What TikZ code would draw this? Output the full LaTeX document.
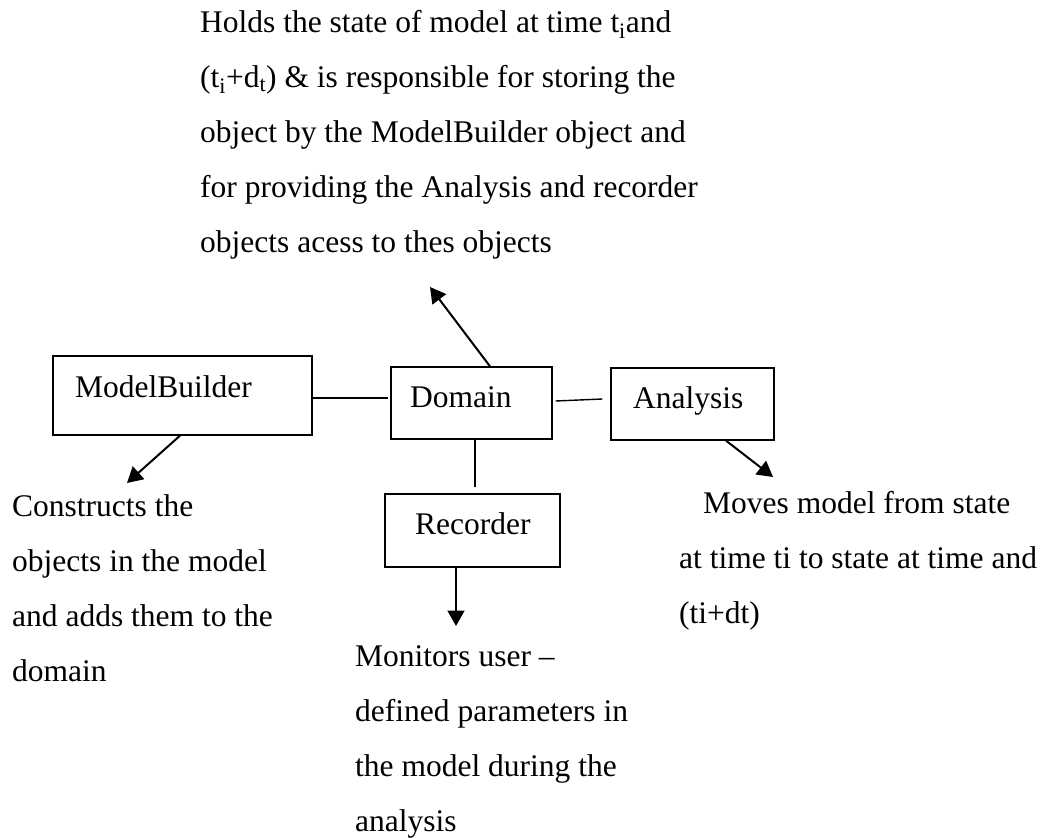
\documentclass[tikz,border=0pt]{standalone}
\usepackage{fontspec}
\setmainfont{Liberation Serif}
\usetikzlibrary{arrows.meta}

% stacked lines with a fixed baseline distance; the block's baseline is its first line
\newcommand{\textlines}[1]{\vtop{\baselineskip=55.2pt\lineskiplimit=-100pt\lineskip=0pt #1}}

\tikzset{
  classbox/.style={draw=black, line width=1.3pt, inner sep=0pt, fill=white},
  label/.style={anchor=base west, inner sep=0pt, font=\fontsize{31.5}{55}\selectfont},
  link/.style={line width=1.4pt},
  pointer/.style={line width=2pt, -{Triangle[length=15.5pt,width=17pt]}}
}

\begin{document}
\begin{tikzpicture}[x=1pt,y=-1pt]
\useasboundingbox (0,0) rectangle (1047,838);

% class boxes
\node[classbox, minimum width=259pt, minimum height=79pt] (mb)  at (182.5,395.5) {};
\node[classbox, minimum width=161pt, minimum height=72pt] (dom) at (471.5,403) {};
\node[classbox, minimum width=163pt, minimum height=72pt] (an)  at (692.5,404) {};
\node[classbox, minimum width=175pt, minimum height=73pt] (rec) at (472.5,530.5) {};

% box titles
\node[label] (mbt)  at (75,397)  {ModelBuilder};
\node[label] (domt) at (410,407) {Domain};
\node[label] (ant)  at (633,408) {Analysis};
\node[label] (rect) at (415,534) {Recorder};

% descriptions
\node[label] (domdesc) at (200,32) {\textlines{%
  \hbox{Holds the state of model at time t\textsubscript{i}and}
  \hbox{(t\textsubscript{i}+d\textsubscript{t}) \& is responsible for storing the}
  \hbox{object by the ModelBuilder object and}
  \hbox{for providing the Analysis and recorder}
  \hbox{objects acess to thes objects}}};

\node[label] (mbdesc) at (12,516) {\textlines{%
  \hbox{Constructs the}
  \hbox{objects in the model}
  \hbox{and adds them to the}
  \hbox{domain}}};

\node[label] (andesc) at (679,513) {\textlines{%
  \hbox{\hspace*{24pt}Moves model from state}
  \hbox{at time ti to state at time and}
  \hbox{(ti+dt)}}};

\node[label] (recdesc) at (355,666) {\textlines{%
  \hbox{Monitors user --}
  \hbox{defined parameters in}
  \hbox{the model during the}
  \hbox{analysis}}};

% arrow tips
\coordinate (domtip) at (430,287);
\coordinate (mbtip)  at (127,483);
\coordinate (antip)  at (773,477);
\coordinate (rectip) at (456,626);

% plain links between the boxes
\draw[link] ([yshift=-2.5pt]mb.east) -- ([xshift=-2pt,yshift=5pt]dom.west);
\draw[link] ([xshift=3pt,yshift=2pt]dom.east) -- ([xshift=-8pt,yshift=5pt]an.west);
\draw[link] ([xshift=3.5pt]dom.south) -- ([xshift=2.5pt,yshift=6pt]rec.north);

% arrows to the descriptions
\draw[pointer] ([xshift=18.5pt]dom.north) -- (domtip);
\draw[pointer] ([xshift=-2.5pt]mb.south) -- (mbtip);
\draw[pointer] ([xshift=33.5pt]an.south) -- (antip);
\draw[pointer] ([xshift=-16.5pt]rec.south) -- (rectip);
\end{tikzpicture}
\end{document}
